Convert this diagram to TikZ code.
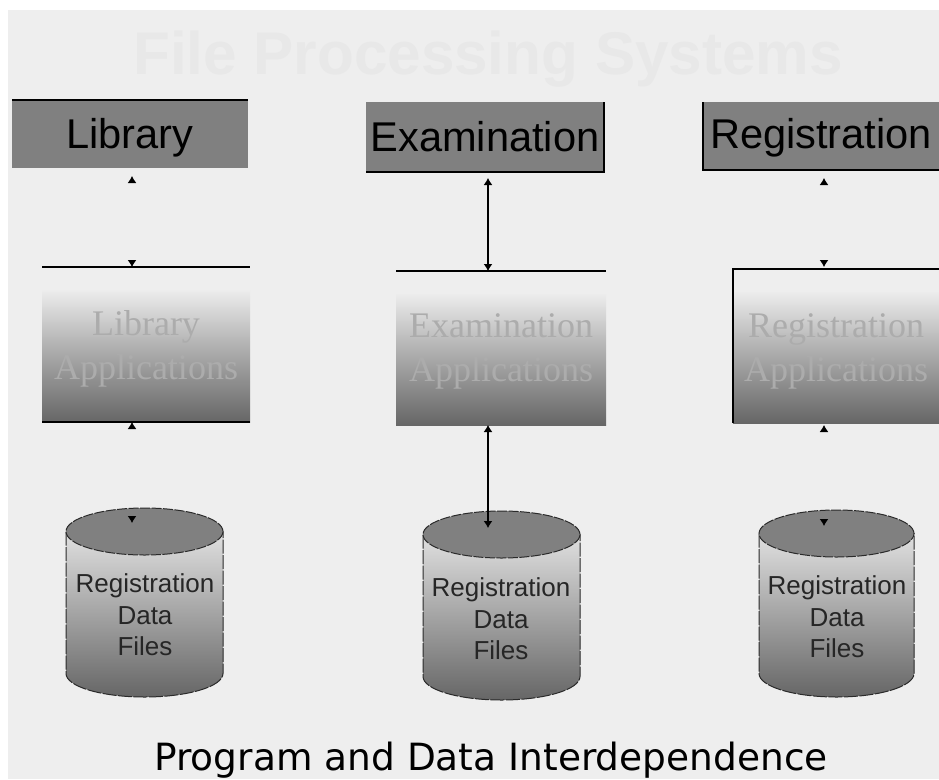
\documentclass[tikz,border=0pt]{standalone}
\usepackage{fontspec}
\setmainfont{Liberation Sans}
\newfontfamily\appfont{Liberation Serif}
\newfontfamily\capfont{DejaVu Sans}
\usetikzlibrary{arrows.meta,shapes.geometric}
\definecolor{paper}{HTML}{EEEEEE}
\definecolor{boxgrey}{HTML}{808080}
\definecolor{fadetitle}{HTML}{E8E8E8}
\definecolor{apptext}{HTML}{ACACAC}
\definecolor{rimgrey}{HTML}{2A2A2A}
\pgfdeclareverticalshading{appfade}{100bp}{color(0bp)=(black!60); color(25bp)=(black!60); color(50bp)=(black!30); color(68bp)=(paper); color(100bp)=(paper)}

\begin{document}
\begin{tikzpicture}[x=1pt,y=-1pt,
  titlebox/.style={rectangle, fill=boxgrey, outer sep=0pt, inner sep=0pt, minimum width=236pt, minimum height=68pt, text height=37pt, text depth=9pt, font=\fontsize{41.6}{48}\selectfont},
  appbox/.style={rectangle, shading=appfade, outer sep=0pt, inner sep=0pt, minimum height=155pt},
  apptitle/.style={align=center, text=apptext, font=\appfont\fontsize{36}{44}\selectfont},
  databody/.style={draw=rimgrey, line width=1pt, dash pattern=on 14pt off 1.5pt, top color=black!12, bottom color=black!60},
  datatop/.style={ellipse, fill=boxgrey, draw=rimgrey, line width=1pt, dash pattern=on 10pt off 1.5pt, outer sep=0pt, inner sep=0pt, minimum width=157pt, minimum height=47pt},
  datatext/.style={align=center, font=\fontsize{26}{31.5}\selectfont, text=black!85},
  rule/.style={black, line width=1.5pt},
  link/.style={{Latex[length=7pt,width=9pt]}-{Latex[length=7pt,width=9pt]}, black, line width=1.2pt},
  ghostlink/.style={link, dash pattern=on 0pt off 2000pt}
  ]
  \useasboundingbox (0,0) rectangle (939,779);
  \fill[paper] (8,10) rectangle (939,779);

  \node (head) [anchor=base, text=fadetitle, font=\bfseries\fontsize{60.2}{70}\selectfont] at (488,74) {File Processing Systems};

  \node (lib) [titlebox] at (130,134) {Library};
  \node (exam) [titlebox, minimum width=238pt, minimum height=70pt] at (485,137) {Examination};
  \node (reg) [titlebox, text height=34pt, minimum height=68pt] at (821,136) {Registration};

  \node (libapp) [appbox, minimum width=208pt] at (146,344.5) {};
  \node (examapp) [appbox, minimum width=210pt, minimum height=154pt] at (501,348) {};
  \node (regapp) [appbox, minimum width=206pt, minimum height=154pt] at (836,346) {};
  \node (libname) [apptitle] at (146,348.5) {Library\\Applications};
  \node (examname) [apptitle] at (501,351.5) {Examination\\Applications};
  \node (regname) [apptitle] at (836,351) {Registration\\Applications};

  \path[databody] (66,531.5) -- ++(0,142) arc[start angle=180, end angle=360, x radius=78.5pt, y radius=23.5pt] -- ++(0,-142) -- cycle;
  \path[databody] (423,534.5) -- ++(0,142) arc[start angle=180, end angle=360, x radius=78.5pt, y radius=23.5pt] -- ++(0,-142) -- cycle;
  \path[databody] (759,533.5) -- ++(0,140) arc[start angle=180, end angle=360, x radius=77.5pt, y radius=23.5pt] -- ++(0,-140) -- cycle;
  \node (libtop) [datatop] at (144.5,531.5) {};
  \node (examtop) [datatop] at (501.5,534.5) {};
  \node (regtop) [datatop, minimum width=155pt] at (836.5,533.5) {};

  \node (libfiles) [datatext] at (145,615) {Registration\\Data\\Files};
  \node (examfiles) [datatext] at (501,619) {Registration\\Data\\Files};
  \node (regfiles) [datatext] at (837,617) {Registration\\Data\\Files};

  \draw[rule] (lib.north west) -- (lib.north east);
  \draw[rule] (libapp.north west) -- (libapp.north east);
  \draw[rule] (libapp.south west) -- (libapp.south east);
  \draw[rule] (exam.south west) -- (exam.south east) -- (exam.north east);
  \draw[rule] (examapp.north west) -- (examapp.north east);
  \draw[rule] (reg.north west) -- (reg.south west) -- (reg.south east);
  \draw[rule] (regapp.south west) -- (regapp.north west) -- (regapp.north east);

  \coordinate (libx) at (132,0);
  \coordinate (examx) at (488,0);
  \coordinate (regx) at (824,0);

  \path[ghostlink, shorten <=8pt] (libx |- lib.south) edge (libx |- libapp.north);
  \path[ghostlink, shorten >=8.5pt] (libx |- libapp.south) edge (libx |- libtop.center);
  \path[link, shorten <=6pt] (examx |- exam.south) edge (examx |- examapp.north);
  \path[link, shorten >=6.5pt] (examx |- examapp.south) edge (examx |- examtop.center);
  \path[ghostlink, shorten <=8pt, shorten >=2pt] (regx |- reg.south) edge (regx |- regapp.north);
  \path[ghostlink, shorten <=2pt, shorten >=7.5pt] (regx |- regapp.south) edge (regx |- regtop.center);

  \node (foot) [anchor=base, font=\capfont\fontsize{37.5}{44}\selectfont] at (491,770) {Program and Data Interdependence};
\end{tikzpicture}
\end{document}
